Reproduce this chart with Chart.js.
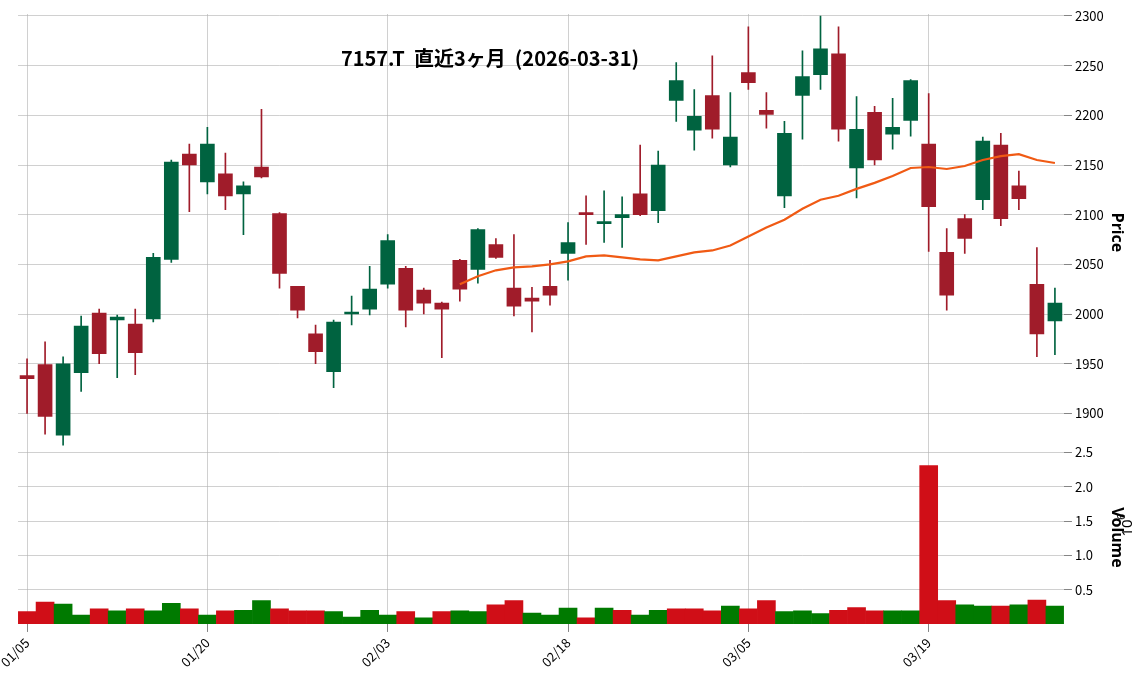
<!DOCTYPE html>
<html><head><meta charset="utf-8">
<script src="https://cdn.jsdelivr.net/npm/chart.js@4/dist/chart.umd.min.js"></script>
<style>html,body{margin:0;background:#fff}#w{width:1148px;height:673px}</style>
</head><body><div id="w"><canvas id="c"></canvas></div>
<script>
const dates=["01/05","01/06","01/07","01/08","01/09","01/13","01/14","01/15","01/16","01/19","01/20","01/21","01/22","01/23","01/26","01/27","01/28","01/29","01/30","02/02","02/03","02/04","02/05","02/06","02/09","02/10","02/12","02/13","02/16","02/17","02/18","02/19","02/20","02/24","02/25","02/26","02/27","03/02","03/03","03/04","03/05","03/06","03/09","03/10","03/11","03/12","03/13","03/16","03/17","03/18","03/19","03/23","03/24","03/25","03/26","03/27","03/30","03/31"];
const openP=[1938,1949,1878,1941,2001,1994,1990,1995,2055,2161,2133,2141,2121,2148,2101,2028,1980,1942,2000,2005,2030,2046,2024,2011,2054,2045,2070,2026,2016,2028,2061,2101,2091,2097,2121,2104,2215,2185,2220,2150,2243,2205,2119,2220,2241,2262,2147,2203,2181,2195,2171,2062,2096,2115,2170,2129,2030,1993];
const closeP=[1935,1897,1950,1988,1960,1997,1961,2057,2153,2150,2171,2119,2129,2138,2041,2004,1962,1992,2002,2025,2074,2004,2011,2005,2025,2085,2057,2008,2013,2019,2072,2100,2092,2100,2100,2150,2235,2199,2186,2178,2233,2201,2182,2239,2267,2186,2186,2155,2188,2235,2108,2019,2076,2174,2096,2116,1980,2011];
const highP=[1955,1972,1957,1998,2005,1999,2005,2061,2155,2171,2188,2162,2133,2206,2102,2028,1989,1994,2018,2048,2080,2048,2026,2012,2055,2086,2076,2080,2027,2054,2092,2119,2124,2118,2170,2164,2253,2226,2260,2223,2289,2223,2194,2265,2300,2289,2219,2209,2217,2236,2222,2086,2100,2178,2182,2144,2067,2026];
const lowP=[1900,1879,1868,1922,1950,1936,1939,1992,2052,2103,2121,2105,2080,2137,2026,1996,1950,1926,1989,1999,2026,1987,2000,1956,2013,2031,2056,1998,1982,2009,2034,2070,2072,2067,2099,2092,2194,2165,2177,2148,2226,2187,2107,2176,2226,2174,2117,2150,2166,2179,2063,2004,2061,2105,2089,2105,1957,1959];
const maP=[null,null,null,null,null,null,null,null,null,null,null,null,null,null,null,null,null,null,null,null,null,null,null,null,2030,2038,2044,2047,2048,2050,2053,2058,2059,2057,2055,2054,2058,2062,2064,2069,2078,2087,2095,2106,2115,2119,2126,2132,2139,2147,2148,2146,2149,2155,2159,2161,2155,2152];
const volume=[0.18,0.32,0.29,0.13,0.22,0.19,0.22,0.19,0.30,0.22,0.13,0.19,0.20,0.34,0.22,0.19,0.19,0.18,0.10,0.20,0.13,0.18,0.09,0.18,0.19,0.18,0.28,0.34,0.16,0.13,0.23,0.09,0.23,0.20,0.13,0.20,0.22,0.22,0.19,0.26,0.22,0.34,0.18,0.19,0.15,0.20,0.24,0.19,0.19,0.19,2.31,0.34,0.28,0.26,0.26,0.28,0.35,0.26];
const volUp=[0,0,1,1,0,1,0,1,1,0,1,0,1,1,0,0,0,1,1,1,1,0,1,0,1,1,0,0,1,1,1,0,1,0,1,1,0,0,0,1,0,0,1,1,1,0,0,0,1,1,0,0,1,1,0,1,0,1];
const tickIdx=[0,10,20,30,40,50];
const title="7157.T  直近3ヶ月  (2026-03-31)";

const UP='#006340',DN='#a01c2a',VUP='#007a00',VDN='#d00e17';
const cc=openP.map((o,i)=>closeP[i]>=o?UP:DN);
const gridY={color:'#b0b0b0',borderDash:[2,2],lineWidth:0.6,tickColor:'#333'};
const gridX={color:c=>tickIdx.includes(c.index)?'#b0b0b0':'rgba(0,0,0,0)',borderDash:[2,2],lineWidth:0.6,
  tickColor:c=>tickIdx.includes(c.index)?'#333':'rgba(0,0,0,0)',offset:false};
const fnt={family:'"Noto Sans CJK JP","Noto Sans",sans-serif',size:13};
const deco={id:'deco',afterDraw(ch){const c=ch.ctx;c.save();c.fillStyle='#000';
 c.font='bold 20px "Noto Sans CJK JP"';c.textAlign='center';c.fillText(title,490,66);
 c.font='15px "Noto Sans"';c.translate(1132,528);c.rotate(-Math.PI/2);c.fillText('10',0,0);c.font='10px "Noto Sans"';c.fillText('6',11,-7);c.restore();}};
new Chart(document.getElementById('c'),{
 data:{labels:dates,datasets:[
  {type:'bar',data:dates.map((d,i)=>[lowP[i],highP[i]]),backgroundColor:cc,barThickness:1,yAxisID:'y',grouped:false,order:3},
  {type:'bar',data:dates.map((d,i)=>[Math.min(openP[i],closeP[i]),Math.max(openP[i],closeP[i])+(openP[i]===closeP[i]?1:0)]),backgroundColor:cc,barThickness:14,minBarLength:2,yAxisID:'y',grouped:false,order:2},
  {type:'line',data:maP,borderColor:'#f05a14',borderWidth:2.2,pointRadius:0,yAxisID:'y',order:1},
  {type:'bar',data:volume,backgroundColor:volUp.map(u=>u?VUP:VDN),barThickness:18,yAxisID:'v',grouped:false,order:4}
 ]},
 options:{responsive:true,maintainAspectRatio:false,animation:false,
  layout:{padding:{left:4,top:14,right:22,bottom:0}},
  plugins:{legend:{display:false},tooltip:{enabled:false}},
  scales:{
   x:{type:'category',offset:true,
      ticks:{callback:(v,i)=>tickIdx.includes(i)?dates[i]:'',maxRotation:45,minRotation:45,font:fnt,color:'#000',autoSkip:false},grid:gridX,border:{color:'#ccc'}},
   y:{position:'right',stack:'s',stackWeight:430,min:1862,max:2302,afterBuildTicks(a){a.ticks=[1900,1950,2000,2050,2100,2150,2200,2250,2300].map(v=>({value:v}));},
      ticks:{font:fnt,color:'#000',callback:v=>String(v)},grid:gridY,border:{display:false},
      title:{display:true,text:'Price',font:{family:'"Noto Sans"',size:16,weight:'bold'},color:'#000',padding:{top:0,bottom:0}}},
   v:{position:'right',stack:'s',stackWeight:170,min:0,max:2.52,afterBuildTicks(a){a.ticks=[0.5,1,1.5,2,2.5].map(v=>({value:v}));},
      ticks:{font:fnt,color:'#000',callback:v=>v.toFixed(1)},grid:gridY,border:{display:false},
      title:{display:true,text:'Volume',font:{family:'"Noto Sans"',size:16,weight:'bold'},color:'#000',padding:{top:0,bottom:0}}}
  }},
 plugins:[deco]});
</script></body></html>
